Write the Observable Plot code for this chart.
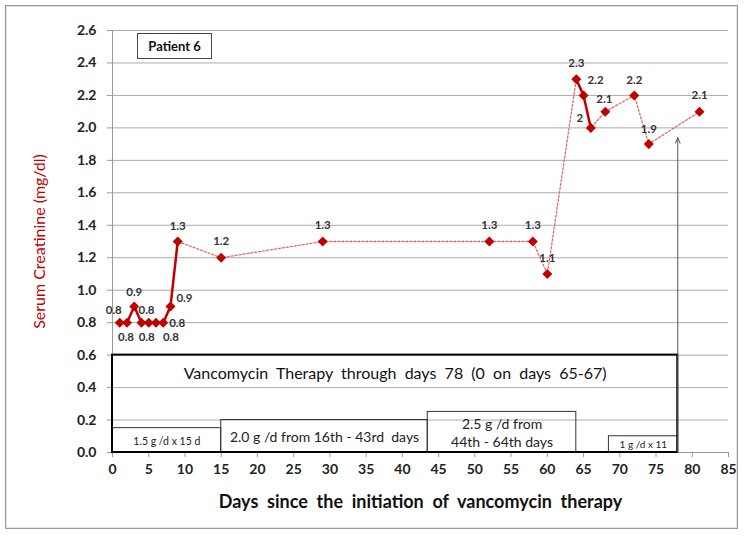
<!DOCTYPE html>
<html>
<head>
<meta charset="utf-8">
<script src="https://cdn.jsdelivr.net/npm/d3@7"></script>
<script src="https://cdn.jsdelivr.net/npm/@observablehq/plot@0.6"></script>
<style>
  html, body { margin: 0; padding: 0; background: #fff; }
  #wrap { position: relative; width: 744px; height: 538px; overflow: hidden; }
  #border { position: absolute; left: 5px; top: 5px; width: 733px; height: 524px; box-sizing: border-box;
            border: 1px solid #9a9a9a; box-shadow: inset 0 0 0 1px #e2e2e2; pointer-events: none; }
  #patient { position: absolute; left: 137px; top: 33px; width: 75px; height: 26px; box-sizing: border-box;
             border: 1px solid #444; background: #fff; font: bold 13px Lato, sans-serif; color: #111;
             display: flex; align-items: center; justify-content: center; }
</style>
</head>
<body>
<div id="wrap"><div id="border"></div><div id="patient">Patient 6</div></div>
<script>
// ---- data ----
const days       = [1, 2, 3, 4, 5, 6, 7, 8, 9, 15, 29, 52, 58, 60, 64, 65, 66, 68, 72, 74, 81];
const creatinine = [0.8, 0.8, 0.9, 0.8, 0.8, 0.8, 0.8, 0.9, 1.3, 1.2, 1.3, 1.3, 1.3, 1.1, 2.3, 2.2, 2.0, 2.1, 2.2, 1.9, 2.1];
const pointLabels = ["0.8","0.8","0.9","0.8","0.8","0.8","0.8","0.9","1.3","1.2","1.3","1.3","1.3","1.1","2.3","2.2","2","2.1","2.2","1.9","2.1"];
const solidRuns = [[1, 9], [64, 66]];   // day ranges drawn with a solid line

const xTicks = [0, 5, 10, 15, 20, 25, 30, 35, 40, 45, 50, 55, 60, 65, 70, 75, 80, 85];
const yTicks = [0, 0.2, 0.4, 0.6, 0.8, 1.0, 1.2, 1.4, 1.6, 1.8, 2.0, 2.2, 2.4, 2.6];

const therapyEnd = 78;
const therapyText = "Vancomycin Therapy through days 78 (0 on days 65-67)";
const regimenStart = [0, 15, 43.5, 68.5];
const regimenEnd   = [15, 43.5, 64, 78];
const regimenText  = ["1.5 g /d x 15 d", "2.0 g /d from 16th - 43rd  days", "2.5 g /d from\n44th - 64th days", "1 g /d x 11"];
const arrowDay = 78;
const arrowTop = 1.94;

const xTitle = "Days since the initiation of vancomycin therapy";
const yTitle = "Serum Creatinine (mg/dl)";

// ---- layout / style (not data) ----
const wide = s => s.replace(/ +/g, "\u00a0 ");   // wider word spacing, as in the original
const therapyBoxTop = 0.6;
const regimenBoxTop = [0.15, 0.2, 0.25, 0.1];
const regimenFont   = [10.5, 14, 14, 10];
const labelDx = [-6, -1, 0, 5, -2, 15, 14, 14, 0, 0, 0, 0, 0, 0, 0, 12, -11, -1, 0, 0, 0];
const labelDy = [-12, 15, -14, -12, 15, 15, 1, -8, -15, -16, -16, -16, -16, -16, -16, -15, -10, -12, -15, -15, -16];

const RED = "#c00000";
const idx = d3.range(days.length);
const runOf = i => solidRuns.findIndex(([a, b]) => days[i] >= a && days[i] <= b);

const diamond = {
  draw(ctx, size) {
    const h = Math.sqrt(size / 2);
    ctx.moveTo(0, -h); ctx.lineTo(h, 0); ctx.lineTo(0, h); ctx.lineTo(-h, 0); ctx.closePath();
  }
};

const labelMarks = idx.map(i => Plot.text([i], {
  x: j => days[j], y: j => creatinine[j], text: j => pointLabels[j],
  dx: labelDx[i], dy: labelDy[i], fontSize: 11.5, fontWeight: "bold", fill: "#333"
}));

const regIdx = d3.range(regimenStart.length);

const chart = Plot.plot({
  width: 744, height: 538,
  marginLeft: 112, marginRight: 16, marginTop: 30, marginBottom: 86,
  x: { domain: [0, 85] },
  y: { domain: [0, 2.6] },
  style: { fontFamily: "Lato, sans-serif", fontSize: "14px", fontWeight: "bold", background: "transparent", overflow: "visible" },
  marks: [
    Plot.gridY(yTicks.filter(v => v > 0), { stroke: "#ababab", strokeOpacity: 1 }),
    Plot.axisY(yTicks, { tickSize: 5, tickPadding: 11, tickFormat: d => d.toFixed(1), stroke: "#999", fill: "#222", label: null }),
    Plot.axisX(xTicks, { tickSize: 5, tickPadding: 7, stroke: "#999", fill: "#222", label: null }),
    Plot.ruleX([0], { stroke: "#999" }),
    Plot.ruleY([0], { stroke: "#999" }),
    // dosing boxes
    Plot.rect(regIdx, { x1: i => regimenStart[i], x2: i => regimenEnd[i], y1: 0, y2: i => regimenBoxTop[i], fill: "none", stroke: "#333", strokeWidth: 1 }),
    ...regIdx.map(i => Plot.text([i], {
      x: j => (regimenStart[j] + regimenEnd[j]) / 2, y: j => regimenBoxTop[j] / 2, text: j => regimenText[j],
      fontSize: regimenFont[i], fontWeight: "normal", fill: "#222", lineHeight: 1.25
    })),
    Plot.rect([0], { x1: 0, x2: therapyEnd, y1: 0, y2: therapyBoxTop, fill: "none", stroke: "#000", strokeWidth: 2 }),
    Plot.text([wide(therapyText)], { x: therapyEnd / 2, y: therapyBoxTop, dy: 19, fontSize: 16, fontWeight: "normal", fill: "#111" }),
    // arrow
    Plot.arrow([arrowDay], { x1: d => d, x2: d => d, y1: 0, y2: arrowTop, stroke: "#555", strokeWidth: 1, headLength: 9, headAngle: 45 }),
    // series
    Plot.line(idx, { x: i => days[i], y: i => creatinine[i], stroke: "#e06a6a", strokeWidth: 1.3, strokeDasharray: "2,2" }),
    Plot.line(idx.filter(i => runOf(i) >= 0), { x: i => days[i], y: i => creatinine[i], z: runOf, stroke: RED, strokeWidth: 2.5 }),
    Plot.dot(idx, { x: i => days[i], y: i => creatinine[i], symbol: diamond, r: 4, fill: RED, stroke: "none" }),
    ...labelMarks,
    // titles
    Plot.text([wide(xTitle)], { frameAnchor: "bottom", dy: 55, fontSize: 18, fontWeight: "bold", fill: "#111" }),
    Plot.text([yTitle], { frameAnchor: "left", textAnchor: "middle", dx: -73, dy: 0, rotate: -90, fontSize: 16, fontWeight: "normal", fill: RED })
  ]
});
chart.style.position = "absolute";
chart.style.left = "0px";
chart.style.top = "0px";
document.getElementById("wrap").insertBefore(chart, document.getElementById("patient"));
</script>
</body>
</html>
